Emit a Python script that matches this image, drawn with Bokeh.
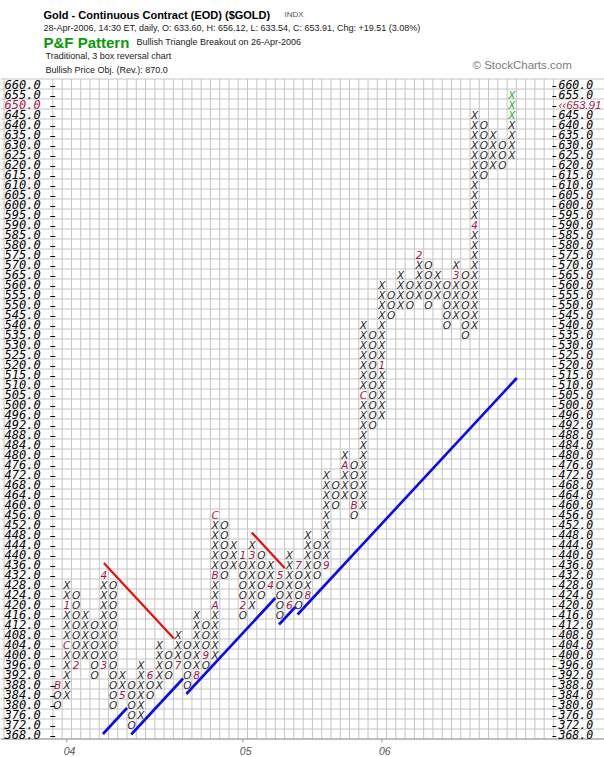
from bokeh.plotting import figure
from bokeh.models import Range1d, Label, ColumnDataSource
from bokeh.core.properties import value
from bokeh.embed import file_html
from bokeh.resources import INLINE

# ---------------- data ----------------
box_levels = [368, 372, 376, 380, 384, 388, 392, 396, 400, 404, 408, 412, 416, 420, 424,
              428, 432, 436, 440, 444, 448, 452, 456, 460, 464, 468, 472, 476, 480, 484,
              488, 492, 496,
              500, 505, 510, 515, 520, 525, 530, 535, 540, 545, 550, 555, 560, 565, 570,
              575, 580, 585, 590, 595, 600, 605, 610, 615, 620, 625, 630, 635, 640, 645,
              650, 655, 660]

col_kind = ["O", "X", "O", "X", "O", "X", "O", "X", "O", "X",
            "O", "X", "O", "X", "O", "X", "O", "X", "O", "X",
            "O", "X", "O", "X", "O", "X", "O", "X", "O", "X",
            "O", "X", "O", "X", "O", "X", "O", "X", "O", "X",
            "O", "X", "O", "X", "O", "X", "O", "X", "O", "X"]
col_high = [388, 428, 424, 416, 412, 432, 428, 392, 388, 396,
            392, 404, 400, 408, 404, 416, 412, 456, 452, 444,
            440, 444, 440, 436, 432, 440, 436, 448, 444, 472,
            468, 480, 476, 540, 535, 560, 555, 565, 560, 575,
            570, 565, 560, 570, 565, 645, 640, 635, 630, 655]
col_low = [380, 384, 396, 400, 392, 396, 380, 384, 372, 376,
           384, 388, 392, 396, 388, 392, 396, 400, 432, 436,
           416, 420, 424, 428, 416, 420, 420, 424, 432, 436,
           460, 464, 456, 460, 492, 496, 545, 550, 550, 555,
           550, 555, 540, 545, 535, 540, 615, 620, 620, 625]

month_col = [0, 1, 1, 2, 5, 5, 7, 10, 13, 15, 16, 17, 17, 17, 20,
             20, 21, 23, 24, 25, 26, 27, 29, 31, 32, 33, 35, 39, 43, 45]
month_price = [388, 404, 420, 396, 396, 432, 384, 392, 396, 392, 400, 420, 432, 456, 440,
               420, 440, 428, 432, 420, 436, 424, 436, 476, 460, 505, 520, 575, 565, 590]
month_text = ["B", "C", "1", "2", "3", "4", "5", "6", "7", "8", "9", "A", "B", "C", "1",
              "2", "3", "4", "5", "6", "7", "8", "9", "A", "B", "C", "1", "2", "3", "4"]

green_col = [49, 49, 49]
green_price = [645, 650, 655]

year_col = [1, 20, 35]
year_text = ["04", "05", "06"]

last_price_level = 650
last_price_text = "\u2039\u2039653.91"

# trend lines in (column, box-row) units
support_x0 = [4.9, 7.95, 13.9, 23.9, 25.9]
support_r0 = [0.05, 0.0, 4.05, 11.0, 12.0]
support_x1 = [7.5, 13.55, 23.5, 25.65, 49.55]
support_r1 = [2.65, 5.6, 13.65, 12.75, 35.65]
resist_x0 = [5.0, 20.95]
resist_r0 = [17.15, 20.2]
resist_x1 = [12.55, 24.5]
resist_r1 = [9.6, 16.65]

# ---------------- layout ----------------
W, H = 604, 757
COL_PX, ROW_PX = 9.27, 10.0
COL0_PX = 57.0      # px of column 0 centre
ROW0_PX = 734.0     # px (from top) of bottom row centre
N_GRID_COLS = 54
N_ROWS = len(box_levels)


def fx(px):
    return (px - COL0_PX) / COL_PX


def fy(t):
    return (ROW0_PX - t) / ROW_PX


p = figure(width=W, height=H, x_range=Range1d(fx(0), fx(W)), y_range=Range1d(fy(H), fy(0)),
           output_backend="svg", toolbar_location=None, min_border=0,
           x_axis_type=None, y_axis_type=None, outline_line_color=None,
           background_fill_color="white", border_fill_color="white")

GRID = "#c4c4c4"
vx = [c - 0.5 for c in range(N_GRID_COLS + 1)]
p.segment(x0=vx, y0=[-0.45] * len(vx), x1=vx, y1=[N_ROWS - 0.45] * len(vx),
          line_color=GRID, line_width=1)
hy = [r - 0.45 for r in range(N_ROWS + 1)]
p.segment(x0=[fx(0)] * len(hy), y0=hy, x1=[fx(W)] * len(hy), y1=hy,
          line_color=GRID, line_width=1)
p.segment(x0=[fx(3.5)], y0=[-0.45], x1=[fx(3.5)], y1=[N_ROWS - 0.45],
          line_color=GRID, line_width=1)
p.segment(x0=[fx(0)], y0=[-0.45], x1=[fx(W)], y1=[-0.45], line_color="#9a9a9a", line_width=1)

rows = list(range(N_ROWS))
p.segment(x0=[-0.78] * N_ROWS, y0=[r - 0.2 for r in rows], x1=[-0.25] * N_ROWS,
          y1=[r - 0.2 for r in rows], line_color="black", line_width=1)
p.segment(x0=[N_GRID_COLS - 0.62] * N_ROWS, y0=[r - 0.2 for r in rows],
          x1=[N_GRID_COLS - 0.2] * N_ROWS, y1=[r - 0.2 for r in rows],
          line_color="black", line_width=1)

# ---------------- boxes ----------------
MONTH_COLOR = "#a8124a"
GREEN = "#1fae1f"
month_map = {(c, pr): t for c, pr, t in zip(month_col, month_price, month_text)}
green_set = set(zip(green_col, green_price))

bx, by, bt, bc = [], [], [], []
for ci, (kind, hi, lo) in enumerate(zip(col_kind, col_high, col_low)):
    for r, lvl in enumerate(box_levels):
        if lo <= lvl <= hi:
            bx.append(ci)
            by.append(r)
            if (ci, lvl) in month_map:
                bt.append(month_map[(ci, lvl)])
                bc.append(MONTH_COLOR)
            elif (ci, lvl) in green_set:
                bt.append(kind)
                bc.append(GREEN)
            else:
                bt.append(kind)
                bc.append("#2a2a2a")

box_src = ColumnDataSource(dict(x=bx, y=by, t=bt, c=bc))
p.text(x="x", y="y", text="t", text_color="c", source=box_src,
       text_font=value("DejaVu Sans"), text_font_style="italic",
       text_font_size="10.5px", text_align="center", text_baseline="middle")

# ---------------- trend lines ----------------
p.segment(x0=support_x0, y0=support_r0, x1=support_x1, y1=support_r1,
          line_color="#0a0aee", line_width=2.6)
p.segment(x0=resist_x0, y0=resist_r0, x1=resist_x1, y1=resist_r1,
          line_color="#ee0a0a", line_width=2.2)

# ---------------- price scale labels ----------------
RED = "#b01040"
lab_txt = [f"{v:.1f}" for v in box_levels]
lab_col = [RED if v == last_price_level else "black" for v in box_levels]
left_src = ColumnDataSource(dict(x=[fx(4)] * N_ROWS, y=rows, t=lab_txt, c=lab_col))
p.text(x="x", y="y", text="t", text_color="c", source=left_src,
       text_font=value("DejaVu Sans Mono"), text_font_style="italic",
       text_font_size="12px", text_align="left", text_baseline="middle")

r_txt = [last_price_text if v == last_price_level else f"{v:.1f}" for v in box_levels]
r_col = [RED if v == last_price_level else "black" for v in box_levels]
r_font = ["Liberation Sans" if v == last_price_level else "DejaVu Sans Mono" for v in box_levels]
right_src = ColumnDataSource(dict(x=[fx(558)] * N_ROWS, y=rows, t=r_txt, c=r_col, f=r_font))
p.text(x="x", y="y", text="t", text_color="c", text_font="f", source=right_src,
       text_font_style="italic", text_font_size="11.5px",
       text_align="left", text_baseline="middle")

# ---------------- time axis ----------------
p.segment(x0=year_col, y0=[-0.45] * len(year_col), x1=year_col, y1=[-0.8] * len(year_col),
          line_color="#9a9a9a", line_width=1)
p.text(x=[c + 0.3 for c in year_col], y=[fy(750)] * len(year_col), text=year_text,
       text_color="#555555", text_font=value("Liberation Sans"), text_font_style="italic",
       text_font_size="10.5px", text_align="center", text_baseline="alphabetic")


# ---------------- header ----------------
def hdr(px, base, text, size, color="black", style="normal", font="Liberation Sans"):
    p.add_layout(Label(x=fx(px), y=fy(base), text=text, text_font=font,
                       text_font_size=size, text_color=color, text_font_style=style,
                       text_baseline="alphabetic", text_align="left"))


hdr(43, 14, "Gold - Continuous Contract (EOD) ($GOLD)", "11px", style="bold")
hdr(284, 14, "INDX", "8px", color="#555555")
hdr(43, 27, "28-Apr-2006, 14:30 ET, daily, O: 633.60, H: 656.12, L: 633.54, C: 653.91, "
    "Chg: +19.51 (3.08%)", "9px", color="#222222")
hdr(43, 42, "P&F Pattern", "15px", color="#0a9a0a", style="bold")
hdr(136, 41, "Bullish Triangle Breakout on 26-Apr-2006", "9px", color="#222222")
hdr(45, 55, "Traditional, 3 box reversal chart", "9px", color="#222222")
hdr(45, 69, "Bullish Price Obj. (Rev.): 870.0", "9px", color="#222222")
hdr(472, 64, "\u00a9 StockCharts.com", "11.5px", color="#7a7a7a")

open("out.html", "w").write(file_html(p, INLINE))
